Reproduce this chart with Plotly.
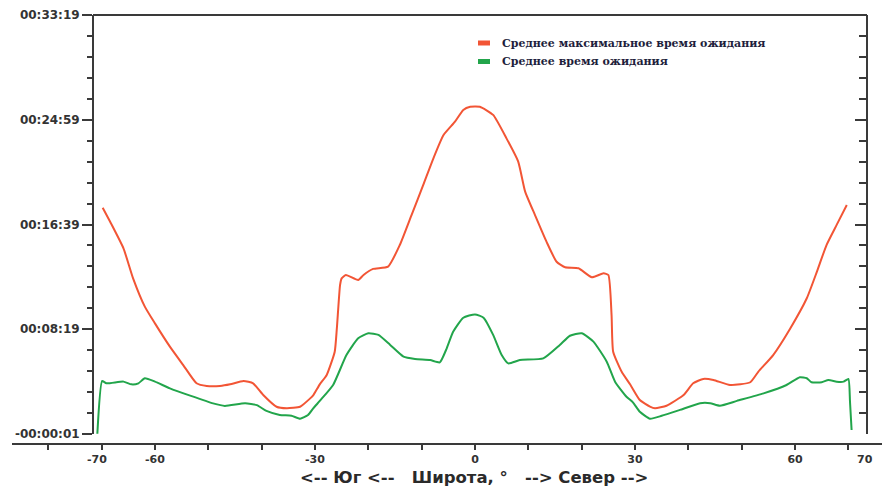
import plotly.graph_objects as go

# ---------------- data (latitude in degrees, waiting time in seconds) -------------
max_lat = [-69.8, -68.4, -65.9, -64.1, -61.9, -60.0, -57.2, -54.7, -52.2, -50.3, -47.8,
           -45.9, -43.4, -41.6, -39.7, -37.2, -35.3, -32.8, -30.9, -30.3, -29.1, -27.8,
           -26.3, -25.9, -25.3, -25.0, -24.2, -21.9, -20.9, -19.1, -16.3, -14.1, -11.9,
           -9.7, -7.8, -5.9, -3.75, -2.2, -0.9, 0.9, 3.4, 5.9, 8.1, 9.4, 11.25, 13.4,
           15.3, 16.9, 19.4, 21.9, 24.1, 25.0, 25.6, 25.9, 27.5, 29.1, 30.9, 32.8, 33.75,
           35.9, 39.1, 40.9, 42.8, 44.7, 47.8, 51.6, 53.1, 55.9, 59.1, 62.2, 64.1, 65.9,
           67.8, 69.7]
max_val = [1079, 1012, 885, 742, 607, 527, 416, 328, 241, 228, 228,
           236, 252, 241, 185, 129, 122, 129, 169, 185, 236, 281,
           392, 503, 710, 742, 758, 734, 758, 787, 798, 901, 1044,
           1188, 1315, 1426, 1490, 1546, 1561, 1561, 1522, 1410, 1299, 1156, 1044, 917,
           821, 795, 790, 747, 766, 758, 567, 392, 296, 235, 161, 130, 122,
           134, 185, 241, 262, 257, 233, 246, 296, 376, 503, 647, 774, 901,
           997, 1092]

mean_lat = [-70.8, -69.9, -69.1, -65.9, -64.4, -63.1, -61.9, -60.0, -57.2, -53.4, -49.1,
            -46.9, -43.1, -40.9, -39.1, -36.6, -34.4, -32.8, -31.3, -30.3, -29.1, -26.6,
            -24.1, -21.9, -20.0, -18.1, -15.9, -13.4, -11.25, -8.4, -6.6, -5.3, -4.1,
            -2.2, 0.0, 1.6, 3.4, 5.0, 6.25, 8.4, 12.8, 15.9, 17.8, 20.0, 22.2, 24.7,
            26.25, 28.4, 29.6, 30.9, 32.8, 35.0, 38.4, 42.2, 44.1, 45.9, 49.1, 54.1,
            58.4, 60.9, 62.2, 63.1, 65.0, 66.25, 67.8, 69.1, 70.0, 70.3, 70.6]
mean_val = [0, 252, 241, 249, 236, 241, 265, 249, 217, 182, 145,
            133, 146, 137, 109, 90, 86, 72, 90, 122, 157, 233,
            376, 456, 480, 472, 424, 368, 357, 352, 341, 408, 487,
            554, 570, 554, 472, 376, 336, 352, 360, 424, 468, 480, 440, 344,
            249, 177, 150, 105, 72, 86, 114, 146, 146, 134, 157, 193,
            233, 270, 265, 246, 246, 257, 249, 249, 262, 153, 18]

series_names = ["Среднее максимальное время ожидания", "Среднее время ожидания"]
series_colors = ["#f25535", "#22a54b"]

y_tickvals = [-1, 499, 999, 1499, 1999]
y_ticktext = ["-00:00:01", "00:08:19", "00:16:39", "00:24:59", "00:33:19"]
y_minor = [-1 + 100 * k for k in range(21)]

x_tickvals = [-80, -70, -60, -50, -40, -30, -20, -10, 0, 10, 20, 30, 40, 50, 60, 70]
x_ticktext = ["", "", "-60", "", "", "-30", "", "", "0", "", "", "30", "", "", "60", ""]
x_title = "<--\u00a0Юг\u00a0<--\u00a0\u00a0\u00a0Широта,\u00a0°\u00a0\u00a0\u00a0-->\u00a0Север\u00a0-->"

# ---------------- layout geometry (pixels) ----------------
W, H = 885, 486
ML, MR, MT, MB = 12, 3, 15, 42
PW, PH = W - ML - MR, H - MT - MB


def px(xp):
    return (xp - ML) / PW


def py(yp):
    return (H - MB - yp) / PH


axis_col = "#3a3a3a"
tick_font = dict(family="DejaVu Sans", size=11, color="#333333", weight="bold")

fig = go.Figure()
fig.add_trace(go.Scatter(x=max_lat, y=max_val, mode="lines", name=series_names[0],
                         line=dict(color=series_colors[0], width=2, shape="spline",
                                   smoothing=0.5), showlegend=False))
fig.add_trace(go.Scatter(x=mean_lat, y=mean_val, mode="lines", name=series_names[1],
                         line=dict(color=series_colors[1], width=2, shape="spline",
                                   smoothing=0.5), showlegend=False))
# invisible trace to activate the right axis
fig.add_trace(go.Scatter(x=[0], y=[0], yaxis="y2", mode="markers",
                         marker=dict(opacity=0), showlegend=False, hoverinfo="skip"))

fig.update_layout(
    width=W, height=H,
    margin=dict(l=ML, r=MR, t=MT, b=MB),
    paper_bgcolor="white", plot_bgcolor="white",
    xaxis=dict(range=[-86.8, 76.3], domain=[0, 1], anchor="free", position=0,
               showgrid=False, zeroline=False, showline=True, linecolor=axis_col, linewidth=2,
               ticks="outside", ticklen=5, tickwidth=2, tickcolor=axis_col,
               tickmode="array", tickvals=x_tickvals, ticktext=x_ticktext,
               tickfont=tick_font),
    yaxis=dict(range=[-1, 1999], domain=[(444 - 434) / PH, 1], anchor="free",
               position=px(93), showgrid=False, zeroline=False, showline=True,
               linecolor=axis_col, linewidth=2,
               ticks="outside", ticklen=10, tickwidth=2, tickcolor=axis_col,
               tickmode="array", tickvals=y_tickvals, ticktext=y_ticktext,
               tickfont=dict(family="DejaVu Sans", size=12, color="#333333", weight="bold"),
               minor=dict(tickmode="array", tickvals=y_minor, ticks="outside",
                          ticklen=5, tickwidth=2, tickcolor=axis_col)),
    yaxis2=dict(range=[-1, 1999], domain=[(444 - 434) / PH, 1], overlaying="y",
                side="right", anchor="free", position=px(867),
                showgrid=False, zeroline=False, showline=True, linecolor=axis_col,
                linewidth=2, ticks="inside", ticklen=11, tickwidth=2, tickcolor=axis_col,
                tickmode="array", tickvals=y_tickvals, showticklabels=False,
                minor=dict(tickmode="array", tickvals=y_minor, ticks="inside",
                           ticklen=7, tickwidth=2, tickcolor=axis_col)),
    showlegend=False,
)

# top frame line
fig.add_shape(type="line", xref="paper", yref="paper", x0=px(93), x1=px(867),
              y0=py(15), y1=py(15), line=dict(color=axis_col, width=2))

# custom legend
leg_font = dict(family="DejaVu Serif", size=11, color="#1e1e3c", weight="bold")
for i, (yc) in enumerate([43, 61.5]):
    fig.add_shape(type="rect", xref="paper", yref="paper",
                  x0=px(478), x1=px(490), y0=py(yc + 2.5), y1=py(yc - 2.5),
                  line=dict(width=0), fillcolor=series_colors[i])
    fig.add_annotation(xref="paper", yref="paper", x=px(500), y=py(yc),
                       xanchor="left", yanchor="middle", showarrow=False,
                       text=series_names[i], font=leg_font)

# edge latitude labels
for val, xc in [("-70", 97), ("70", 865)]:
    fig.add_annotation(xref="paper", yref="paper", x=px(xc), y=py(459),
                       xanchor="center", yanchor="middle", showarrow=False,
                       text=val, font=tick_font)

# axis title
fig.add_annotation(xref="paper", yref="paper", x=px(474), y=py(477),
                   xanchor="center", yanchor="middle", showarrow=False,
                   text=x_title, font=dict(family="DejaVu Sans", size=16.5,
                                           color="#2a2a2a", weight="bold"))

fig.write_html("out.html")
